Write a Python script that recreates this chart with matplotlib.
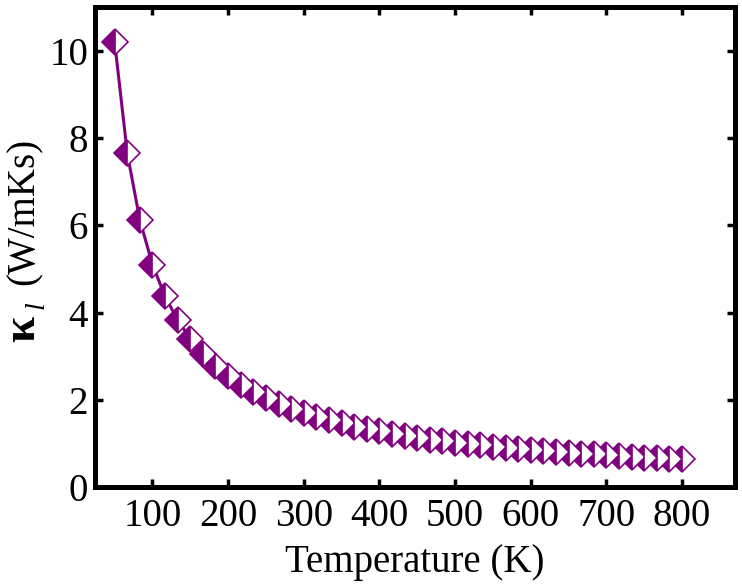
import matplotlib
matplotlib.use("Agg")
import matplotlib.pyplot as plt

# lattice thermal conductivity vs temperature
temperature = [50.0, 66.7, 83.3, 100.0, 116.7, 133.3, 150.0, 166.7, 183.3, 200.0,
               216.7, 233.3, 250.0, 266.7, 283.3, 300.0, 316.7, 333.3, 350.0, 366.7,
               383.3, 400.0, 416.7, 433.3, 450.0, 466.7, 483.3, 500.0, 516.7, 533.3,
               550.0, 566.7, 583.3, 600.0, 616.7, 633.3, 650.0, 666.7, 683.3, 700.0,
               716.7, 733.3, 750.0, 766.7, 783.3, 800.0]
kappa_l = [10.20, 7.65, 6.12, 5.10, 4.37, 3.83, 3.40, 3.06, 2.78, 2.55,
           2.35, 2.19, 2.04, 1.91, 1.80, 1.70, 1.61, 1.53, 1.46, 1.39,
           1.33, 1.28, 1.22, 1.18, 1.13, 1.09, 1.06, 1.02, 0.99, 0.96,
           0.93, 0.90, 0.87, 0.85, 0.83, 0.81, 0.78, 0.77, 0.75, 0.73,
           0.71, 0.70, 0.68, 0.67, 0.65, 0.64]

xticks = [100, 200, 300, 400, 500, 600, 700, 800]
yticks = [0, 2, 4, 6, 8, 10]

plt.rcParams['font.family'] = ['Liberation Serif', 'DejaVu Serif']
plt.rcParams['mathtext.fontset'] = 'custom'
plt.rcParams['mathtext.rm'] = 'Liberation Serif'
plt.rcParams['mathtext.it'] = 'Liberation Serif:italic'
plt.rcParams['mathtext.bf'] = 'Liberation Serif:bold'

color = '#800080'

fig = plt.figure(figsize=(7.42, 5.87), dpi=100)
ax = fig.add_axes([0.128, 0.170, 0.8626, 0.818])

ax.plot(temperature, kappa_l, '-', color=color, lw=2.2,
        marker='D', ms=13, fillstyle='left',
        markerfacecolor=color, markerfacecoloralt='white',
        markeredgecolor=color, markeredgewidth=1.2)

ax.set_xlim(24, 870)
ax.set_ylim(0, 11)
ax.set_xticks(xticks)
ax.set_yticks(yticks)

for side in ax.spines.values():
    side.set_linewidth(3.6)
ax.tick_params(direction='in', length=6, width=2.5, top=True, right=True,
               labelsize=28)
ax.tick_params(axis='x', pad=8)
ax.tick_params(axis='y', pad=5)

ax.set_xlabel("Temperature (K)", fontsize=28, labelpad=6)

# y label built from pieces: big bold kappa, small subscript, units
fig.text(0.047, 0.440, r"$\mathbf{\kappa}$", fontsize=34, rotation=90,
         rotation_mode='anchor', ha='center', va='baseline')
fig.text(0.059, 0.480, "l", style='italic', fontsize=20, rotation=90,
         rotation_mode='anchor', ha='center', va='baseline')
fig.text(0.0458, 0.639, "(W/mKs)", fontsize=28, rotation=90,
         rotation_mode='anchor', ha='center', va='baseline')

fig.savefig("out.png", dpi=100)
